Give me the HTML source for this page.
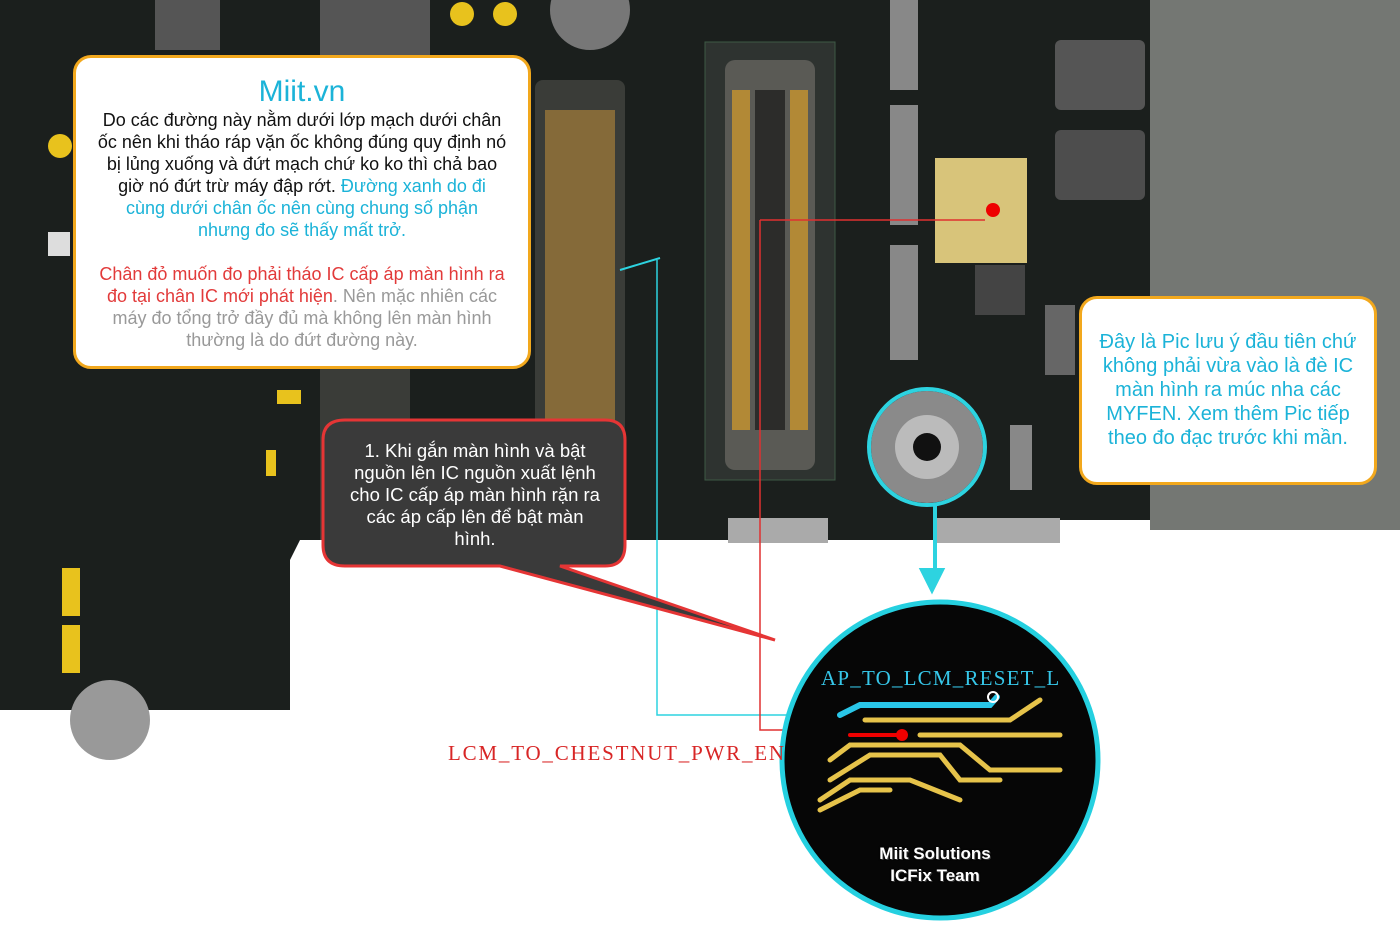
<!DOCTYPE html>
<html><head><meta charset="utf-8"><style>
body{margin:0;width:1400px;height:928px;position:relative;overflow:hidden;background:#fff;font-family:"Liberation Sans",sans-serif}
.a{position:absolute}
.box{position:absolute;background:#fff;border:3px solid #f2a81d;border-radius:18px;text-align:center;font-size:16.5px;line-height:22px;color:#111;white-space:nowrap}
</style></head><body>
<svg class="a" style="left:0;top:0" width="1400" height="928">
<path d="M0 0H1150V520H1060V540H300L290 560V710H0Z" fill="#1b1f1d"/>
<rect x="1150" y="0" width="250" height="530" fill="#747773"/>
<rect x="1055" y="40" width="90" height="70" fill="#555" rx="6"/>
<rect x="1055" y="130" width="90" height="70" fill="#4d4d4d" rx="6"/>
<rect x="705" y="42" width="130" height="438" fill="#2e3330" stroke="#3d5a45"/>
<rect x="725" y="60" width="90" height="410" fill="#5a5a55" rx="10"/>
<rect x="755" y="90" width="30" height="340" fill="#2c2c2a"/>
<g fill="#c8952e">
<rect x="732" y="90" width="18" height="340" opacity=".8"/>
<rect x="790" y="90" width="18" height="340" opacity=".8"/>
</g>
<rect x="535" y="80" width="90" height="380" fill="#3a3c38" rx="8"/>
<rect x="545" y="110" width="70" height="330" fill="#b8893a" opacity=".6"/>
<rect x="155" y="0" width="65" height="50" fill="#555"/>
<rect x="320" y="0" width="110" height="60" fill="#555"/>
<rect x="320" y="360" width="90" height="180" fill="#3a3c38"/>
<rect x="890" y="0" width="28" height="90" fill="#888"/>
<rect x="890" y="105" width="28" height="120" fill="#888"/>
<rect x="890" y="245" width="28" height="115" fill="#888"/>
<rect x="935" y="158" width="92" height="105" fill="#d8c47a"/>
<rect x="975" y="265" width="50" height="50" fill="#444"/>
<circle cx="993" cy="210" r="7" fill="#e00"/>
<rect x="1010" y="425" width="22" height="65" fill="#888"/>
<rect x="728" y="518" width="100" height="25" fill="#aaa"/>
<rect x="935" y="518" width="125" height="25" fill="#aaa"/>
<rect x="1045" y="305" width="30" height="70" fill="#666"/>
<circle cx="590" cy="10" r="40" fill="#777"/>
<circle cx="110" cy="720" r="40" fill="#999"/>
<g fill="#e8c21d"><rect x="62" y="568" width="18" height="48"/><rect x="62" y="625" width="18" height="48"/><rect x="266" y="450" width="10" height="26"/><rect x="277" y="390" width="24" height="14"/><circle cx="462" cy="14" r="12"/><circle cx="505" cy="14" r="12"/><circle cx="60" cy="146" r="12"/></g>
<rect x="48" y="232" width="22" height="24" fill="#ddd"/>
<circle cx="927" cy="447" r="56" fill="#8a8a8a"/>
<circle cx="927" cy="447" r="32" fill="#bbb"/>
<circle cx="927" cy="447" r="14" fill="#111"/>
<circle cx="927" cy="447" r="58" fill="none" stroke="#2dd3e0" stroke-width="4"/>
<path d="M935 505V578" stroke="#2dd3e0" stroke-width="4"/>
<path d="M922 570L932 590L942 570Z" fill="#2dd3e0" stroke="#2dd3e0" stroke-width="4"/>
<path d="M657 260V715H850" fill="none" stroke="#2dd3e0" stroke-width="1.5"/>
<path d="M620 270L660 258" stroke="#2dd3e0" stroke-width="2"/>
<path d="M760 220H985M760 220V730H900" fill="none" stroke="#e03030" stroke-width="1.5"/>
<path d="M345 420H605Q625 420 625 440V545Q625 566 605 566H560L775 640L500 566H345Q323 566 323 545V440Q323 420 345 420Z" fill="#3a3a3a" stroke="#e53535" stroke-width="3"/>
<circle cx="940" cy="760" r="158" fill="#060606" stroke="#25d0e0" stroke-width="5"/>
<g fill="none" stroke-linecap="round">
<path d="M840 715L860 705H990L997 697" stroke="#29c6e8" stroke-width="6"/>
<path d="M850 735H900" stroke="#e00" stroke-width="4"/>
<g stroke="#e6c34a" stroke-width="5">
<path d="M865 720H1010L1040 700"/><path d="M920 735H1060"/><path d="M830 760L850 745H960L990 770H1060"/>
<path d="M830 780L870 755H940L960 780H1000"/><path d="M820 800L850 780H910L960 800"/><path d="M820 810L860 790H890"/>
</g></g>
<circle cx="902" cy="735" r="6" fill="#e00"/>
<circle cx="993" cy="697" r="5" fill="none" stroke="#fff" stroke-width="2"/>
</svg>
<div class="a" style="left:821px;top:666px;font-family:'Liberation Serif',serif;font-size:21px;color:#36c6e8;letter-spacing:1.2px">AP_TO_LCM_RESET_L</div>
<div class="a" style="left:448px;top:741px;font-family:'Liberation Serif',serif;font-size:21px;color:#d82626;letter-spacing:1.8px">LCM_TO_CHESTNUT_PWR_EN</div>
<div class="a" style="left:860px;top:843px;width:150px;text-align:center;color:#fff;font-weight:bold;font-size:17px;line-height:22px;text-shadow:0 0 2px #000,1px 1px 0 #444">Miit Solutions<br>ICFix Team</div>
<div class="box" style="left:73px;top:55px;width:452px;height:308px">
<div style="color:#1bb3d8;font-size:30px;line-height:34px;margin-top:17px">Miit.vn</div>
<div style="font-size:18px">Do các đường này nằm dưới lớp mạch dưới chân<br>ốc nên khi tháo ráp vặn ốc không đúng quy định nó<br>bị lủng xuống và đứt mạch chứ ko ko thì chả bao<br>giờ nó đứt trừ máy đập rớt. <span style="color:#1bb3d8">Đường xanh do đi</span><br><span style="color:#1bb3d8">cùng dưới chân ốc nên cùng chung số phận<br>nhưng đo sẽ thấy mất trở.</span></div>
<div style="margin-top:22px;color:#999;font-size:18px"><span style="color:#e23a3a">Chân đỏ muốn đo phải tháo IC cấp áp màn hình ra<br>đo tại chân IC mới phát hiện</span>. Nên mặc nhiên các<br>máy đo tổng trở đầy đủ mà không lên màn hình<br>thường là do đứt đường này.</div>
</div>
<div class="box" style="left:1079px;top:296px;width:292px;height:183px;color:#1bb3d8;font-size:20px;line-height:24px"><div style="margin-top:31px">Đây là Pic lưu ý đầu tiên chứ<br>không phải vừa vào là đè IC<br>màn hình ra múc nha các<br>MYFEN. Xem thêm Pic tiếp<br>theo đo đạc trước khi mần.</div></div>
<div class="a" style="left:325px;top:440px;width:300px;text-align:center;color:#fff;font-size:18.5px;line-height:22px">1. Khi gắn màn hình và bật<br>nguồn lên IC nguồn xuất lệnh<br>cho IC cấp áp màn hình rặn ra<br>các áp cấp lên để bật màn<br>hình.</div>
</body></html>
